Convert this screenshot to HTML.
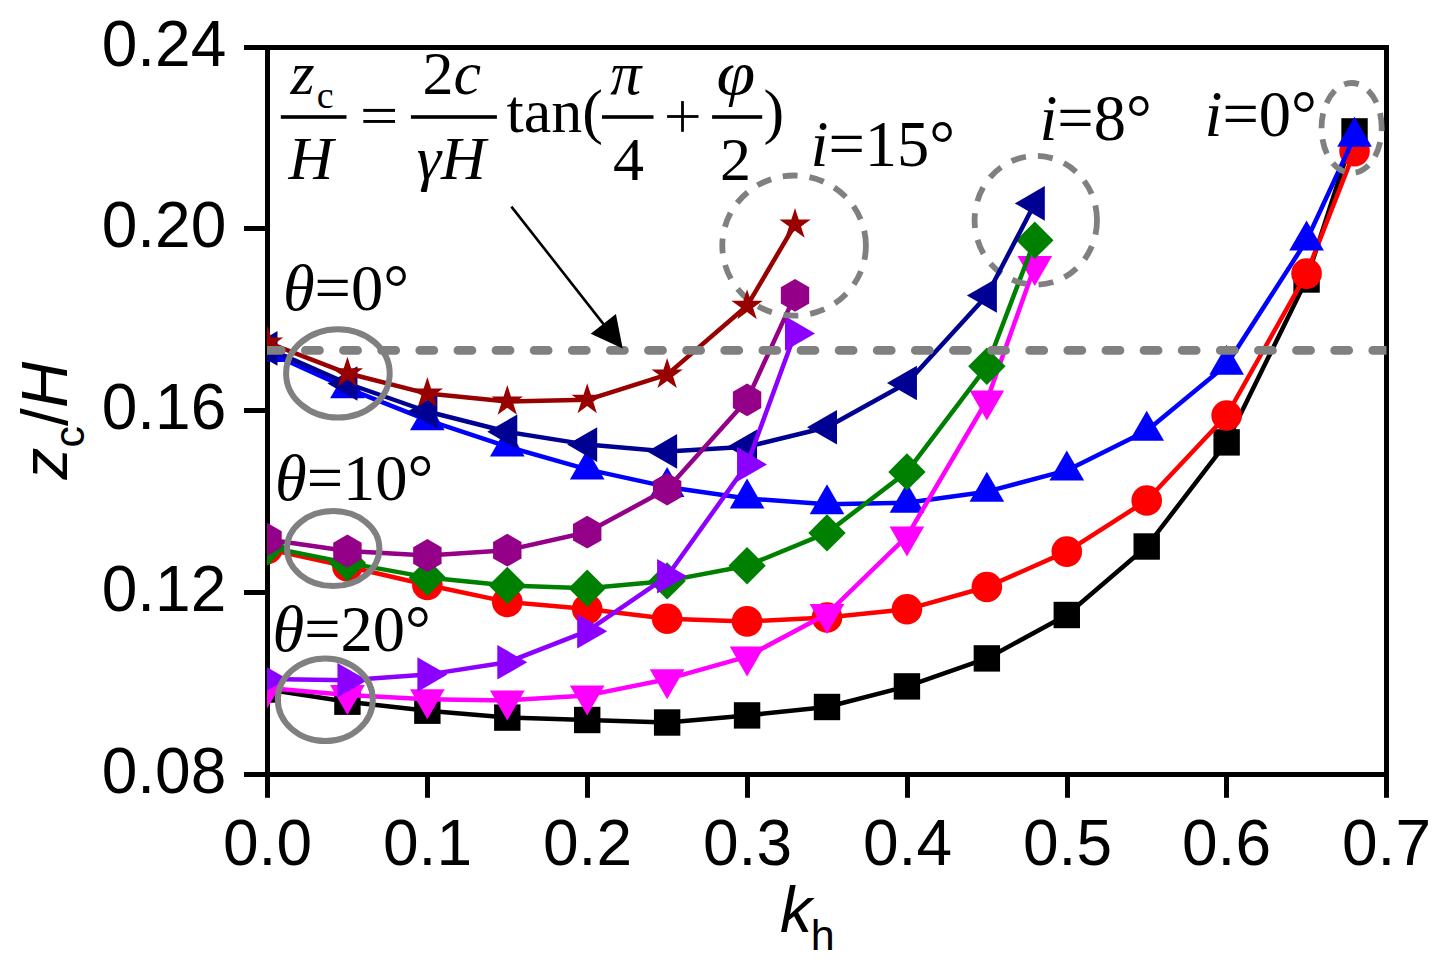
<!DOCTYPE html>
<html><head><meta charset="utf-8"><style>
html,body{margin:0;padding:0;background:#fff;}
svg{display:block;}
.sans{font-family:"Liberation Sans",sans-serif;}
.serif{font-family:"Liberation Serif",serif;}
</style></head><body>
<svg width="1444" height="970" viewBox="0 0 1444 970">
<defs><clipPath id="pc"><rect x="267" y="47.5" width="1119.5" height="727"/></clipPath></defs>
<rect x="0" y="0" width="1444" height="970" fill="#fff"/>

<g stroke="#000" stroke-width="5" fill="none">
<rect x="267.5" y="47.5" width="1119" height="727"/>
<line x1="244" y1="774.5" x2="267.5" y2="774.5"/>
<line x1="244" y1="592.5" x2="267.5" y2="592.5"/>
<line x1="244" y1="410.5" x2="267.5" y2="410.5"/>
<line x1="244" y1="228.5" x2="267.5" y2="228.5"/>
<line x1="244" y1="47.5" x2="267.5" y2="47.5"/>
<line x1="267.5" y1="774.5" x2="267.5" y2="797.8"/>
<line x1="427.5" y1="774.5" x2="427.5" y2="797.8"/>
<line x1="587.5" y1="774.5" x2="587.5" y2="797.8"/>
<line x1="747.5" y1="774.5" x2="747.5" y2="797.8"/>
<line x1="907.5" y1="774.5" x2="907.5" y2="797.8"/>
<line x1="1067.5" y1="774.5" x2="1067.5" y2="797.8"/>
<line x1="1226.5" y1="774.5" x2="1226.5" y2="797.8"/>
<line x1="1386.5" y1="774.5" x2="1386.5" y2="797.8"/>
</g>
<g clip-path="url(#pc)">
<polyline points="267.50,689.50 347.43,701.70 427.36,710.70 507.29,717.60 587.21,720.00 667.14,722.50 747.07,715.40 827.00,707.00 906.93,686.40 986.86,658.40 1066.79,615.00 1146.71,546.50 1226.64,442.40 1306.57,279.50 1354.53,131.40" fill="none" stroke="#000000" stroke-width="4.5" stroke-linejoin="round"/>
<g><rect x="254.30" y="676.30" width="26.40" height="26.40" fill="#000000"/><rect x="334.23" y="688.50" width="26.40" height="26.40" fill="#000000"/><rect x="414.16" y="697.50" width="26.40" height="26.40" fill="#000000"/><rect x="494.09" y="704.40" width="26.40" height="26.40" fill="#000000"/><rect x="574.01" y="706.80" width="26.40" height="26.40" fill="#000000"/><rect x="653.94" y="709.30" width="26.40" height="26.40" fill="#000000"/><rect x="733.87" y="702.20" width="26.40" height="26.40" fill="#000000"/><rect x="813.80" y="693.80" width="26.40" height="26.40" fill="#000000"/><rect x="893.73" y="673.20" width="26.40" height="26.40" fill="#000000"/><rect x="973.66" y="645.20" width="26.40" height="26.40" fill="#000000"/><rect x="1053.59" y="601.80" width="26.40" height="26.40" fill="#000000"/><rect x="1133.51" y="533.30" width="26.40" height="26.40" fill="#000000"/><rect x="1213.44" y="429.20" width="26.40" height="26.40" fill="#000000"/><rect x="1293.37" y="266.30" width="26.40" height="26.40" fill="#000000"/><rect x="1341.33" y="118.20" width="26.40" height="26.40" fill="#000000"/></g>
<polyline points="267.50,549.00 347.43,566.50 427.36,585.00 507.29,601.90 587.21,609.10 667.14,618.80 747.07,621.40 827.00,617.50 906.93,609.30 986.86,587.00 1066.79,551.60 1146.71,500.50 1226.64,415.50 1306.57,273.60 1354.53,151.10" fill="none" stroke="#FF0000" stroke-width="4.5" stroke-linejoin="round"/>
<g><circle cx="267.50" cy="549.00" r="15.3" fill="#FF0000"/><circle cx="347.43" cy="566.50" r="15.3" fill="#FF0000"/><circle cx="427.36" cy="585.00" r="15.3" fill="#FF0000"/><circle cx="507.29" cy="601.90" r="15.3" fill="#FF0000"/><circle cx="587.21" cy="609.10" r="15.3" fill="#FF0000"/><circle cx="667.14" cy="618.80" r="15.3" fill="#FF0000"/><circle cx="747.07" cy="621.40" r="15.3" fill="#FF0000"/><circle cx="827.00" cy="617.50" r="15.3" fill="#FF0000"/><circle cx="906.93" cy="609.30" r="15.3" fill="#FF0000"/><circle cx="986.86" cy="587.00" r="15.3" fill="#FF0000"/><circle cx="1066.79" cy="551.60" r="15.3" fill="#FF0000"/><circle cx="1146.71" cy="500.50" r="15.3" fill="#FF0000"/><circle cx="1226.64" cy="415.50" r="15.3" fill="#FF0000"/><circle cx="1306.57" cy="273.60" r="15.3" fill="#FF0000"/><circle cx="1354.53" cy="151.10" r="15.3" fill="#FF0000"/></g>
<polyline points="267.50,352.00 347.43,388.30 427.36,420.20 507.29,446.60 587.21,469.40 667.14,486.90 747.07,498.50 827.00,504.30 906.93,502.80 986.86,491.70 1066.79,470.40 1146.71,430.70 1226.64,364.80 1306.57,240.50 1354.53,136.70" fill="none" stroke="#0000FF" stroke-width="4.5" stroke-linejoin="round"/>
<g><polygon points="267.50,332.00 284.82,362.00 250.18,362.00" fill="#0000FF"/><polygon points="347.43,368.30 364.75,398.30 330.11,398.30" fill="#0000FF"/><polygon points="427.36,400.20 444.68,430.20 410.04,430.20" fill="#0000FF"/><polygon points="507.29,426.60 524.61,456.60 489.97,456.60" fill="#0000FF"/><polygon points="587.21,449.40 604.53,479.40 569.89,479.40" fill="#0000FF"/><polygon points="667.14,466.90 684.46,496.90 649.82,496.90" fill="#0000FF"/><polygon points="747.07,478.50 764.39,508.50 729.75,508.50" fill="#0000FF"/><polygon points="827.00,484.30 844.32,514.30 809.68,514.30" fill="#0000FF"/><polygon points="906.93,482.80 924.25,512.80 889.61,512.80" fill="#0000FF"/><polygon points="986.86,471.70 1004.18,501.70 969.54,501.70" fill="#0000FF"/><polygon points="1066.79,450.40 1084.11,480.40 1049.47,480.40" fill="#0000FF"/><polygon points="1146.71,410.70 1164.03,440.70 1129.39,440.70" fill="#0000FF"/><polygon points="1226.64,344.80 1243.96,374.80 1209.32,374.80" fill="#0000FF"/><polygon points="1306.57,220.50 1323.89,250.50 1289.25,250.50" fill="#0000FF"/><polygon points="1354.53,116.70 1371.85,146.70 1337.21,146.70" fill="#0000FF"/></g>
<polyline points="267.50,688.00 347.43,695.00 427.36,699.20 507.29,700.40 587.21,695.40 667.14,679.20 747.07,656.60 827.00,614.00 906.93,536.40 986.86,400.50 1034.81,266.00" fill="none" stroke="#FF00FF" stroke-width="4.5" stroke-linejoin="round"/>
<g><polygon points="267.50,708.00 250.18,678.00 284.82,678.00" fill="#FF00FF"/><polygon points="347.43,715.00 330.11,685.00 364.75,685.00" fill="#FF00FF"/><polygon points="427.36,719.20 410.04,689.20 444.68,689.20" fill="#FF00FF"/><polygon points="507.29,720.40 489.97,690.40 524.61,690.40" fill="#FF00FF"/><polygon points="587.21,715.40 569.89,685.40 604.53,685.40" fill="#FF00FF"/><polygon points="667.14,699.20 649.82,669.20 684.46,669.20" fill="#FF00FF"/><polygon points="747.07,676.60 729.75,646.60 764.39,646.60" fill="#FF00FF"/><polygon points="827.00,634.00 809.68,604.00 844.32,604.00" fill="#FF00FF"/><polygon points="906.93,556.40 889.61,526.40 924.25,526.40" fill="#FF00FF"/><polygon points="986.86,420.50 969.54,390.50 1004.18,390.50" fill="#FF00FF"/><polygon points="1034.81,286.00 1017.49,256.00 1052.13,256.00" fill="#FF00FF"/></g>
<polyline points="267.50,547.00 347.43,562.90 427.36,577.40 507.29,585.40 587.21,588.20 667.14,580.90 747.07,565.70 827.00,532.90 906.93,471.90 986.86,366.30 1034.81,240.20" fill="none" stroke="#008000" stroke-width="4.5" stroke-linejoin="round"/>
<g><polygon points="267.50,528.30 286.20,547.00 267.50,565.70 248.80,547.00" fill="#008000"/><polygon points="347.43,544.20 366.13,562.90 347.43,581.60 328.73,562.90" fill="#008000"/><polygon points="427.36,558.70 446.06,577.40 427.36,596.10 408.66,577.40" fill="#008000"/><polygon points="507.29,566.70 525.99,585.40 507.29,604.10 488.59,585.40" fill="#008000"/><polygon points="587.21,569.50 605.91,588.20 587.21,606.90 568.51,588.20" fill="#008000"/><polygon points="667.14,562.20 685.84,580.90 667.14,599.60 648.44,580.90" fill="#008000"/><polygon points="747.07,547.00 765.77,565.70 747.07,584.40 728.37,565.70" fill="#008000"/><polygon points="827.00,514.20 845.70,532.90 827.00,551.60 808.30,532.90" fill="#008000"/><polygon points="906.93,453.20 925.63,471.90 906.93,490.60 888.23,471.90" fill="#008000"/><polygon points="986.86,347.60 1005.56,366.30 986.86,385.00 968.16,366.30" fill="#008000"/><polygon points="1034.81,221.50 1053.51,240.20 1034.81,258.90 1016.11,240.20" fill="#008000"/></g>
<path d="M1097.00,220.30 A61.2,64.4 0 1 0 974.60,220.30 A61.2,64.4 0 1 0 1097.00,220.30" fill="none" stroke="#808080" stroke-width="5.8" stroke-dasharray="15 12.118"/>
<polyline points="267.50,348.40 347.43,383.50 427.36,411.50 507.29,431.80 587.21,444.60 667.14,451.40 747.07,446.80 827.00,427.30 906.93,383.00 986.86,295.50 1034.81,203.40" fill="none" stroke="#000092" stroke-width="4.5" stroke-linejoin="round"/>
<g><polygon points="247.50,348.40 277.50,331.08 277.50,365.72" fill="#000092"/><polygon points="327.43,383.50 357.43,366.18 357.43,400.82" fill="#000092"/><polygon points="407.36,411.50 437.36,394.18 437.36,428.82" fill="#000092"/><polygon points="487.29,431.80 517.29,414.48 517.29,449.12" fill="#000092"/><polygon points="567.21,444.60 597.21,427.28 597.21,461.92" fill="#000092"/><polygon points="647.14,451.40 677.14,434.08 677.14,468.72" fill="#000092"/><polygon points="727.07,446.80 757.07,429.48 757.07,464.12" fill="#000092"/><polygon points="807.00,427.30 837.00,409.98 837.00,444.62" fill="#000092"/><polygon points="886.93,383.00 916.93,365.68 916.93,400.32" fill="#000092"/><polygon points="966.86,295.50 996.86,278.18 996.86,312.82" fill="#000092"/><polygon points="1014.81,203.40 1044.81,186.08 1044.81,220.72" fill="#000092"/></g>
<polyline points="267.50,679.00 347.43,680.20 427.36,674.60 507.29,662.30 587.21,631.20 667.14,576.30 747.07,464.40 795.03,333.40" fill="none" stroke="#8C00FF" stroke-width="4.5" stroke-linejoin="round"/>
<g><polygon points="287.50,679.00 257.50,696.32 257.50,661.68" fill="#8C00FF"/><polygon points="367.43,680.20 337.43,697.52 337.43,662.88" fill="#8C00FF"/><polygon points="447.36,674.60 417.36,691.92 417.36,657.28" fill="#8C00FF"/><polygon points="527.29,662.30 497.29,679.62 497.29,644.98" fill="#8C00FF"/><polygon points="607.21,631.20 577.21,648.52 577.21,613.88" fill="#8C00FF"/><polygon points="687.14,576.30 657.14,593.62 657.14,558.98" fill="#8C00FF"/><polygon points="767.07,464.40 737.07,481.72 737.07,447.08" fill="#8C00FF"/><polygon points="815.03,333.40 785.03,350.72 785.03,316.08" fill="#8C00FF"/></g>
<polyline points="267.50,539.40 347.43,551.00 427.36,555.50 507.29,550.20 587.21,532.20 667.14,489.10 747.07,399.90 795.03,295.40" fill="none" stroke="#940088" stroke-width="4.5" stroke-linejoin="round"/>
<g><polygon points="267.50,523.00 281.70,531.20 281.70,547.60 267.50,555.80 253.30,547.60 253.30,531.20" fill="#940088"/><polygon points="347.43,534.60 361.63,542.80 361.63,559.20 347.43,567.40 333.23,559.20 333.23,542.80" fill="#940088"/><polygon points="427.36,539.10 441.56,547.30 441.56,563.70 427.36,571.90 413.15,563.70 413.15,547.30" fill="#940088"/><polygon points="507.29,533.80 521.49,542.00 521.49,558.40 507.29,566.60 493.08,558.40 493.08,542.00" fill="#940088"/><polygon points="587.21,515.80 601.42,524.00 601.42,540.40 587.21,548.60 573.01,540.40 573.01,524.00" fill="#940088"/><polygon points="667.14,472.70 681.35,480.90 681.35,497.30 667.14,505.50 652.94,497.30 652.94,480.90" fill="#940088"/><polygon points="747.07,383.50 761.27,391.70 761.27,408.10 747.07,416.30 732.87,408.10 732.87,391.70" fill="#940088"/><polygon points="795.03,279.00 809.23,287.20 809.23,303.60 795.03,311.80 780.83,303.60 780.83,287.20" fill="#940088"/></g>
<path d="M865.90,245.60 A71.8,70.1 0 1 0 722.30,245.60 A71.8,70.1 0 1 0 865.90,245.60" fill="none" stroke="#808080" stroke-width="5.8" stroke-dasharray="15 11.925"/>
<polyline points="267.50,342.50 347.43,373.30 427.36,393.60 507.29,401.50 587.21,399.80 667.14,374.60 747.07,305.80 795.03,224.50" fill="none" stroke="#990000" stroke-width="4.5" stroke-linejoin="round"/>
<g><polygon points="267.50,326.00 271.20,337.40 283.19,337.40 273.49,344.45 277.20,355.85 267.50,348.80 257.80,355.85 261.51,344.45 251.81,337.40 263.80,337.40" fill="#990000"/><polygon points="347.43,356.80 351.13,368.20 363.12,368.20 353.42,375.25 357.13,386.65 347.43,379.60 337.73,386.65 341.43,375.25 331.74,368.20 343.72,368.20" fill="#990000"/><polygon points="427.36,377.10 431.06,388.50 443.05,388.50 433.35,395.55 437.06,406.95 427.36,399.90 417.66,406.95 421.36,395.55 411.66,388.50 423.65,388.50" fill="#990000"/><polygon points="507.29,385.00 510.99,396.40 522.98,396.40 513.28,403.45 516.98,414.85 507.29,407.80 497.59,414.85 501.29,403.45 491.59,396.40 503.58,396.40" fill="#990000"/><polygon points="587.21,383.30 590.92,394.70 602.91,394.70 593.21,401.75 596.91,413.15 587.21,406.10 577.52,413.15 581.22,401.75 571.52,394.70 583.51,394.70" fill="#990000"/><polygon points="667.14,358.10 670.85,369.50 682.84,369.50 673.14,376.55 676.84,387.95 667.14,380.90 657.44,387.95 661.15,376.55 651.45,369.50 663.44,369.50" fill="#990000"/><polygon points="747.07,289.30 750.78,300.70 762.76,300.70 753.07,307.75 756.77,319.15 747.07,312.10 737.37,319.15 741.08,307.75 731.38,300.70 743.37,300.70" fill="#990000"/><polygon points="795.03,208.00 798.73,219.40 810.72,219.40 801.02,226.45 804.73,237.85 795.03,230.80 785.33,237.85 789.03,226.45 779.34,219.40 791.32,219.40" fill="#990000"/></g>
<path d="M1381.70,128.00 A30.1,45 0 1 0 1321.50,128.00 A30.1,45 0 1 0 1381.70,128.00" fill="none" stroke="#808080" stroke-width="5.8" stroke-dasharray="15 11.073"/>
</g>
<ellipse cx="337.9" cy="373.4" rx="51.8" ry="44.2" fill="none" stroke="#808080" stroke-width="6"/>
<ellipse cx="333.2" cy="548.6" rx="46.2" ry="37.5" fill="none" stroke="#808080" stroke-width="6"/>
<ellipse cx="325.3" cy="699.8" rx="47.5" ry="41.3" fill="none" stroke="#808080" stroke-width="6"/>
<line x1="267.3" y1="350.4" x2="1386.5" y2="350.4" stroke="#808080" stroke-width="8.8" stroke-dasharray="14 24.12" stroke-linecap="round" clip-path="url(#pc)"/>
<line x1="511.4" y1="206.6" x2="610" y2="332.4" stroke="#000" stroke-width="2.6"/>
<polygon points="622.7,348.6 615.9,314 590.7,333.8" fill="#000"/>
<g class="sans" font-size="64" fill="#000">
<text x="226.3" y="793.00" text-anchor="end">0.08</text>
<text x="226.3" y="611.00" text-anchor="end">0.12</text>
<text x="226.3" y="429.00" text-anchor="end">0.16</text>
<text x="226.3" y="247.00" text-anchor="end">0.20</text>
<text x="226.3" y="66.00" text-anchor="end">0.24</text>
<text x="267.50" y="864.8" text-anchor="middle">0.0</text>
<text x="427.50" y="864.8" text-anchor="middle">0.1</text>
<text x="587.50" y="864.8" text-anchor="middle">0.2</text>
<text x="747.50" y="864.8" text-anchor="middle">0.3</text>
<text x="907.50" y="864.8" text-anchor="middle">0.4</text>
<text x="1067.50" y="864.8" text-anchor="middle">0.5</text>
<text x="1226.50" y="864.8" text-anchor="middle">0.6</text>
<text x="1386.50" y="864.8" text-anchor="middle">0.7</text>
</g>
<text class="sans" font-size="64" x="780.1" y="931.9"><tspan font-style="italic">k</tspan><tspan font-size="43" x="810.8" dy="17.7">h</tspan></text>
<text class="sans" font-size="64" transform="translate(66.7,479.4) rotate(-90)"><tspan font-style="italic">z</tspan><tspan font-size="43" dy="17.3">c</tspan><tspan dy="-17.3">/</tspan><tspan font-style="italic">H</tspan></text>
<text class="serif" font-size="64.5" x="282.9" y="309.5"><tspan font-style="italic">θ</tspan>=0°</text>
<text class="serif" font-size="64.5" x="275" y="500"><tspan font-style="italic">θ</tspan>=10°</text>
<text class="serif" font-size="64.5" x="272.5" y="651"><tspan font-style="italic">θ</tspan>=20°</text>
<text class="serif" font-size="64.5" x="810.5" y="166.2"><tspan font-style="italic">i</tspan>=15°</text>
<text class="serif" font-size="64.5" x="1039.4" y="140"><tspan font-style="italic">i</tspan>=8°</text>
<text class="serif" font-size="64.5" x="1204.5" y="135.8"><tspan font-style="italic">i</tspan>=0°</text>
<g class="serif" font-size="62" fill="#000">
<text x="290.5" y="94" font-style="italic">z</text>
<text x="316.7" y="108" font-size="38">c</text>
<text x="288.5" y="179.3" font-style="italic">H</text>
<text x="422.6" y="94">2<tspan font-style="italic">c</tspan></text>
<text x="416.7" y="179.3" font-style="italic">γH</text>
<text x="506.5" y="132">tan(</text>
<text x="610.2" y="93.5" font-style="italic">π</text>
<text x="613" y="180">4</text>
<text transform="translate(716.4,93.5) scale(1.13,1)" font-style="italic">φ</text>
<text x="719.9" y="180">2</text>
<text x="763.4" y="132">)</text>
</g>
<g fill="#000">
<rect x="280.8" y="115.2" width="65.7" height="3.6"/>
<rect x="410.9" y="115.2" width="86.0" height="3.6"/>
<rect x="602" y="115.2" width="51.5" height="3.6"/>
<rect x="712.1" y="115.2" width="50.1" height="3.6"/>
<rect x="363.3" y="108.9" width="31.7" height="3.0"/>
<rect x="363.3" y="120.0" width="31.7" height="2.9"/>
<rect x="667.1" y="115.1" width="31.4" height="2.8"/>
<rect x="681.1" y="101.1" width="2.8" height="30.7"/>
</g>
</svg></body></html>
